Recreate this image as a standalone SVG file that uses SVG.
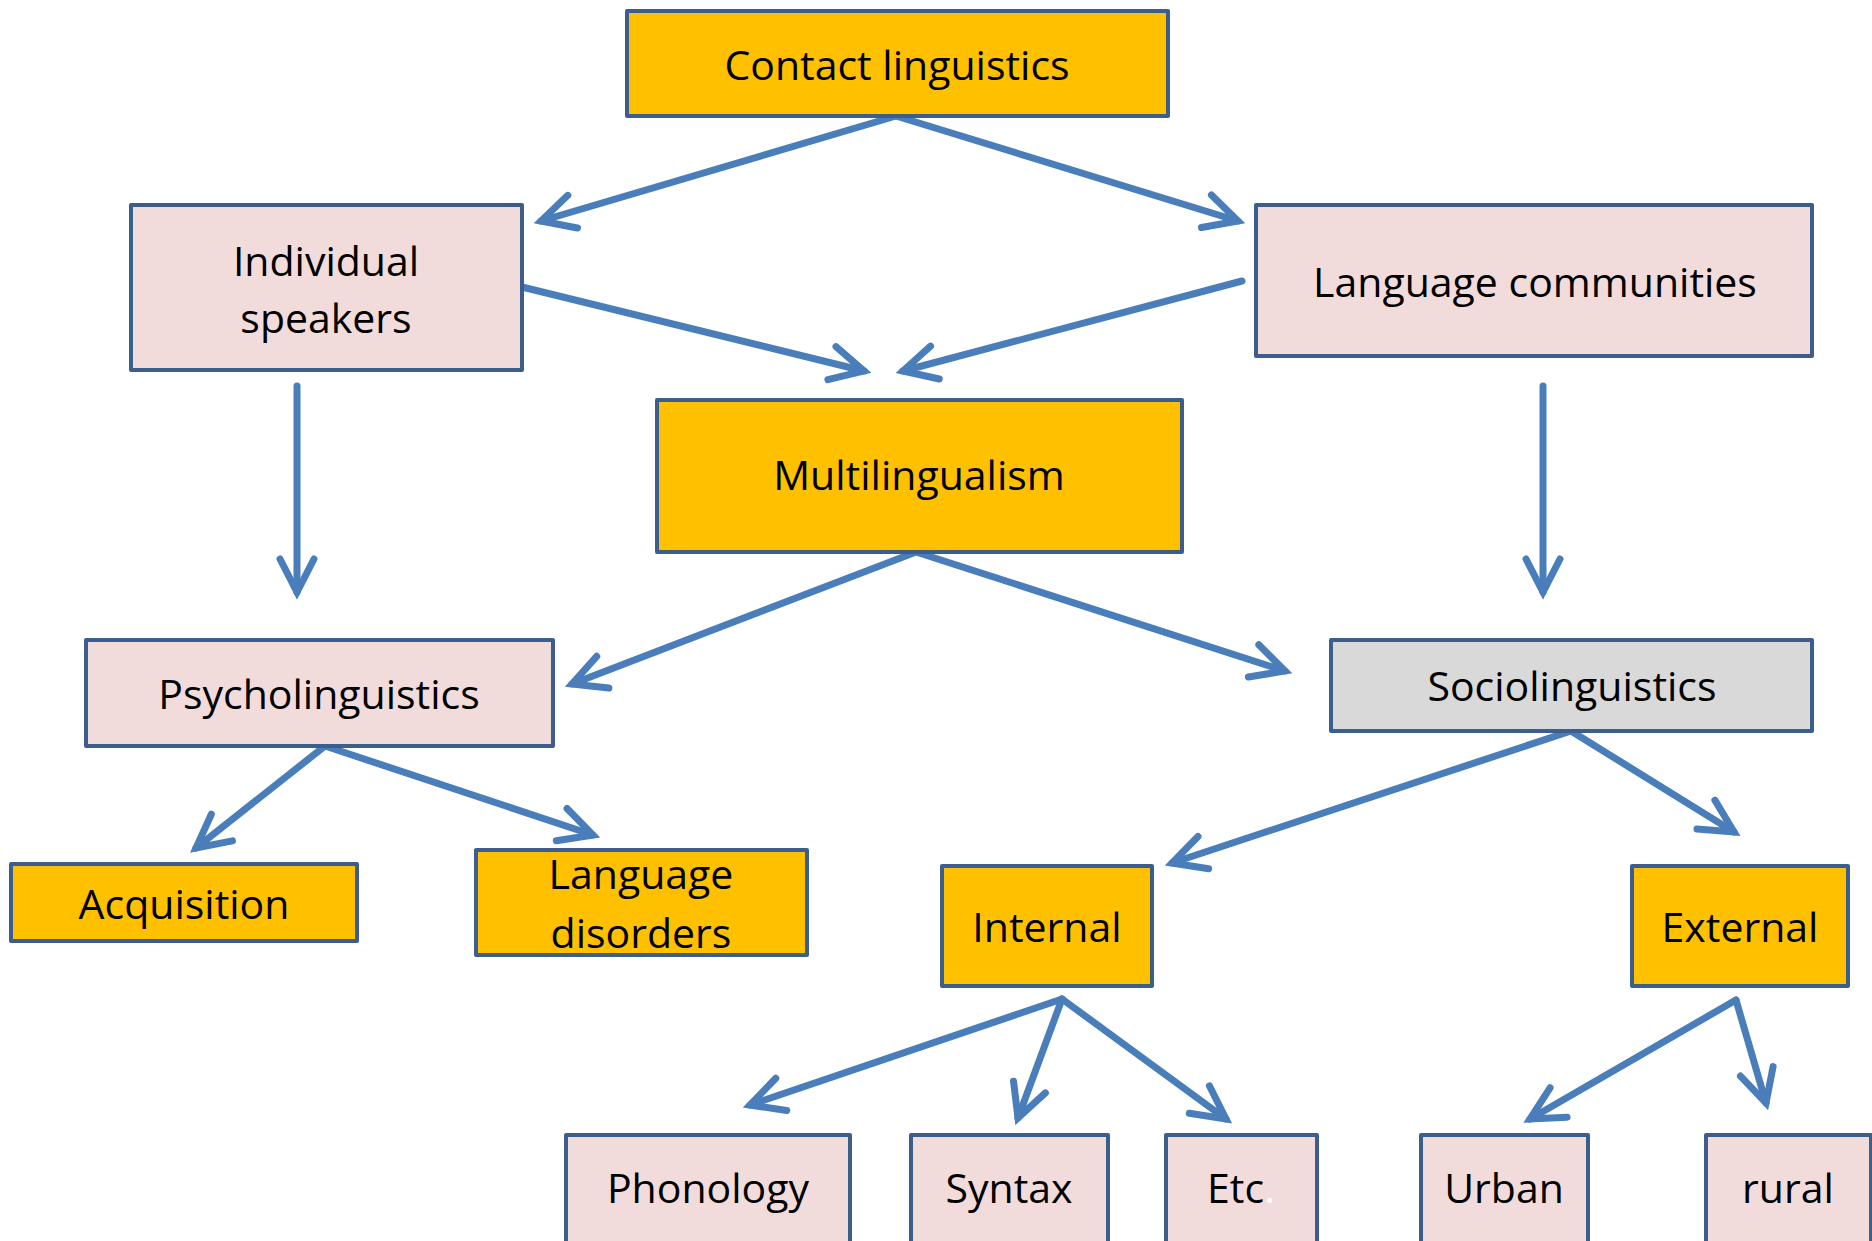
<svg xmlns="http://www.w3.org/2000/svg" width="1872" height="1241" viewBox="0 0 1872 1241">
<style>
.box{stroke:#3B5E8C;stroke-width:4;stroke-linejoin:round}
.gold{fill:#FFC000}
.pink{fill:#F2DCDB}
.grey{fill:#D9D9D9}
.t{font-family:"Open Sans","Liberation Sans",sans-serif;font-size:41px;fill:#000;text-anchor:middle}
.c line{stroke:#4A7EBB;stroke-width:7;stroke-linecap:round;marker-end:url(#ah)}
</style>
<defs>
<marker id="ah" markerUnits="userSpaceOnUse" markerWidth="50" markerHeight="50" viewBox="-40 -25 50 50" refX="0" refY="0" orient="auto" overflow="visible">
<path d="M -33 -17 L 0 0 L -33 17" fill="none" stroke="#4A7EBB" stroke-width="7" stroke-linecap="round" stroke-linejoin="miter"/>
</marker>
</defs>
<rect width="1872" height="1241" fill="#fff"/>
<g class="c" id="connectors">
<line x1="896" y1="116" x2="541" y2="221"/>
<line x1="896" y1="116" x2="1238" y2="221"/>
<line x1="522" y1="287" x2="864" y2="371"/>
<line x1="1242" y1="281" x2="903" y2="371"/>
<line x1="297" y1="386" x2="297" y2="592"/>
<line x1="1543" y1="386" x2="1543" y2="592"/>
<line x1="916" y1="552" x2="572" y2="684"/>
<line x1="916" y1="552" x2="1285" y2="671"/>
<line x1="325" y1="746" x2="196" y2="848"/>
<line x1="325" y1="746" x2="593" y2="835"/>
<line x1="1571" y1="731" x2="1172" y2="863"/>
<line x1="1571" y1="731" x2="1734" y2="832"/>
<line x1="1062" y1="999" x2="750" y2="1105"/>
<line x1="1062" y1="999" x2="1018" y2="1118"/>
<line x1="1062" y1="999" x2="1226" y2="1119"/>
<line x1="1736" y1="1000" x2="1530" y2="1119"/>
<line x1="1736" y1="1000" x2="1766" y2="1103"/>
</g>
<g id="contact"><rect class="box gold" x="627" y="11" width="541" height="105"/><text class="t" x="897" y="80">Contact linguistics</text></g>
<g id="individual"><rect class="box pink" x="131" y="205" width="391" height="165"/><text class="t" x="326" y="276">Individual</text><text class="t" x="326" y="333">speakers</text></g>
<g id="communities"><rect class="box pink" x="1256" y="205" width="556" height="151"/><text class="t" x="1535" y="297">Language communities</text></g>
<g id="multilingualism"><rect class="box gold" x="657" y="400" width="525" height="152"/><text class="t" x="919" y="490">Multilingualism</text></g>
<g id="psycholinguistics"><rect class="box pink" x="86" y="640" width="467" height="106"/><text class="t" x="319" y="709">Psycholinguistics</text></g>
<g id="sociolinguistics"><rect class="box grey" x="1331" y="640" width="481" height="91"/><text class="t" x="1572" y="701">Sociolinguistics</text></g>
<g id="acquisition"><rect class="box gold" x="11" y="864" width="346" height="77"/><text class="t" x="184" y="919">Acquisition</text></g>
<g id="disorders"><rect class="box gold" x="476" y="850" width="331" height="105"/><text class="t" x="641" y="889">Language</text><text class="t" x="641" y="948">disorders</text></g>
<g id="internal"><rect class="box gold" x="942" y="866" width="210" height="120"/><text class="t" x="1047" y="942">Internal</text></g>
<g id="external"><rect class="box gold" x="1632" y="866" width="216" height="120"/><text class="t" x="1740" y="942">External</text></g>
<g id="phonology"><rect class="box pink" x="566" y="1135" width="284" height="120"/><text class="t" x="708" y="1203">Phonology</text></g>
<g id="syntax"><rect class="box pink" x="911" y="1135" width="197" height="120"/><text class="t" x="1009" y="1203">Syntax</text></g>
<g id="etc"><rect class="box pink" x="1166" y="1135" width="151" height="120"/><text class="t" x="1241" y="1203">Etc<tspan fill="#fff">.</tspan></text></g>
<g id="urban"><rect class="box pink" x="1421" y="1135" width="167" height="120"/><text class="t" x="1504" y="1203">Urban</text></g>
<g id="rural"><rect class="box pink" x="1706" y="1135" width="165" height="120"/><text class="t" x="1788" y="1203">rural</text></g>
</svg>
